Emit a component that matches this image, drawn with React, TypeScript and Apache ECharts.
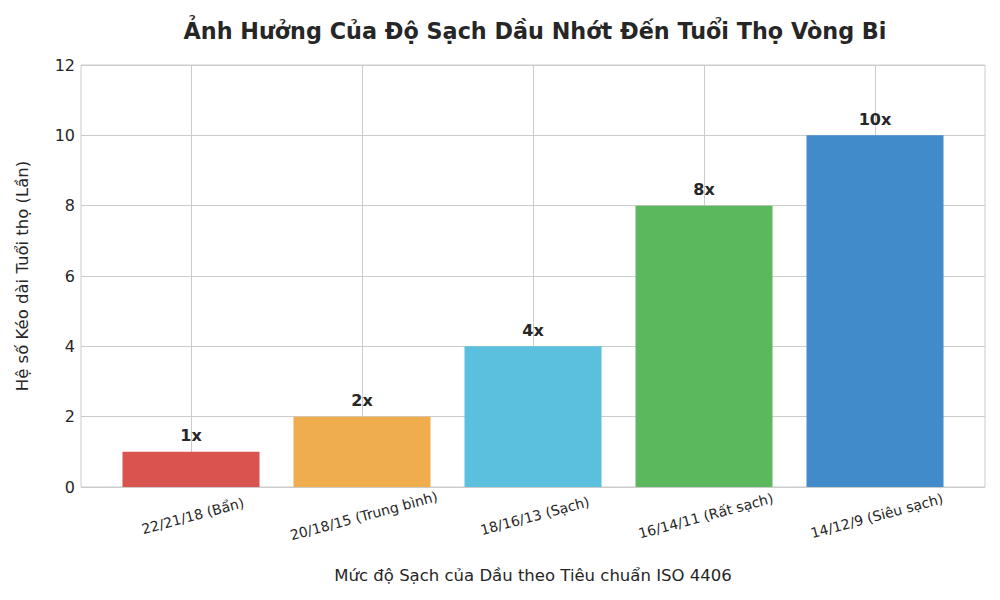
import React, { useEffect, useRef } from "react";
import * as echarts from "echarts";

const categories = [
  "22/21/18 (Bẩn)",
  "20/18/15 (Trung bình)",
  "18/16/13 (Sạch)",
  "16/14/11 (Rất sạch)",
  "14/12/9 (Siêu sạch)",
];
const lifeFactor = [1, 2, 4, 8, 10];
const barColors = ["#d9534f", "#f0ad4e", "#5bc0de", "#5cb85c", "#428bca"];
const yTicks = { min: 0, max: 12, interval: 2 };

const FONT = "DejaVu Sans";
const TXT = "#262626";

export default function App() {
  const ref = useRef<HTMLDivElement>(null);
  useEffect(() => {
    document.body.style.margin = "0";
    const chart = echarts.init(ref.current!, null, { renderer: "svg" });
    chart.setOption({
      animation: false,
      textStyle: { fontFamily: FONT },
      title: {
        text: "Ảnh Hưởng Của Độ Sạch Dầu Nhớt Đến Tuổi Thọ Vòng Bi",
        left: 530,
        textAlign: "center",
        top: 15,
        textStyle: { fontFamily: FONT, fontSize: 22.3, fontWeight: "bold", color: TXT },
      },
      grid: [
        { left: 81, right: 15, top: 65, bottom: 113, show: true, borderColor: "#cccccc", borderWidth: 1 },
        { left: 191, right: 125, top: 65, bottom: 113 },
      ],
      xAxis: [
        { gridIndex: 0, type: "value", show: false, min: 0, max: 1 },
        {
          gridIndex: 1,
          type: "category",
          data: categories,
          boundaryGap: false,
          axisLine: { show: false },
          axisTick: { show: false },
          splitLine: { show: true, lineStyle: { color: "#cccccc", width: 1 } },
          axisLabel: {
            rotate: 15,
            align: "center",
            verticalAlign: "top",
            margin: 22,
            fontSize: 14,
            color: TXT,
            fontFamily: FONT,
          },
          name: "Mức độ Sạch của Dầu theo Tiêu chuẩn ISO 4406",
          nameLocation: "middle",
          nameGap: 80,
          nameTextStyle: { fontSize: 16.5, color: TXT, fontFamily: FONT },
        },
      ],
      yAxis: [
        {
          gridIndex: 0,
          type: "value",
          min: yTicks.min,
          max: yTicks.max,
          interval: yTicks.interval,
          axisLine: { show: false },
          axisTick: { show: false },
          splitLine: { show: true, lineStyle: { color: "#cccccc", width: 1 } },
          axisLabel: { fontSize: 16, color: TXT, margin: 6, fontFamily: FONT },
          name: "Hệ số Kéo dài Tuổi thọ (Lần)",
          nameLocation: "middle",
          nameGap: 50,
          nameTextStyle: { fontSize: 16.5, color: TXT, fontFamily: FONT },
        },
        {
          gridIndex: 1,
          type: "value",
          min: yTicks.min,
          max: yTicks.max,
          show: false,
          splitLine: { show: false },
        },
      ],
      series: [
        {
          type: "bar",
          xAxisIndex: 1,
          yAxisIndex: 1,
          clip: false,
          barWidth: 137,
          data: lifeFactor.map((v, i) => ({ value: v, itemStyle: { color: barColors[i] } })),
          label: {
            show: true,
            position: "top",
            distance: 8,
            formatter: (p: any) => `${p.value}x`,
            fontSize: 16,
            fontWeight: "bold",
            color: TXT,
            fontFamily: FONT,
          },
        },
      ],
    });
    return () => chart.dispose();
  }, []);
  return <div ref={ref} style={{ width: 1000, height: 600 }} />;
}
